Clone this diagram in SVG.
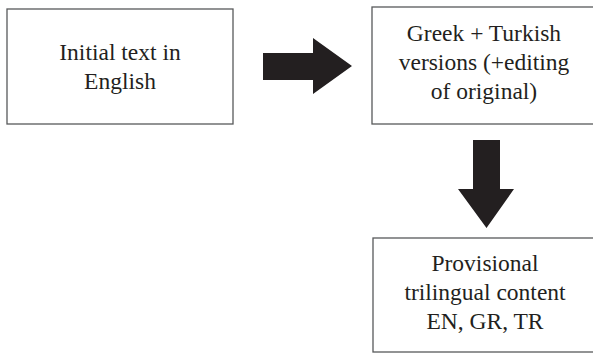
<svg xmlns="http://www.w3.org/2000/svg" width="593" height="354" viewBox="0 0 593 354">
<style>
.box{fill:#fff;stroke:#58595b;stroke-width:1.3}
.lbl{font-family:'Liberation Serif','DejaVu Serif',serif;font-size:23.5px;fill:#231f20;text-anchor:middle}
.arr{fill:#231f20}
</style>
<rect x="0" y="0" width="593" height="354" fill="#fff"/>
<g id="node-initial">
<rect class="box" x="7" y="9" width="226" height="115"/>
<text class="lbl" font-family="Liberation Serif, serif" x="120" y="60">Initial text in</text>
<text class="lbl" font-family="Liberation Serif, serif" x="120" y="89">English</text>
</g>
<g id="node-versions">
<rect class="box" x="372" y="7" width="240" height="117"/>
<text class="lbl" font-family="Liberation Serif, serif" x="484" y="41">Greek + Turkish</text>
<text class="lbl" font-family="Liberation Serif, serif" x="484" y="70">versions (+editing</text>
<text class="lbl" font-family="Liberation Serif, serif" x="484" y="99">of original)</text>
</g>
<g id="node-provisional">
<rect class="box" x="373" y="238" width="240" height="114"/>
<text class="lbl" font-family="Liberation Serif, serif" x="485" y="271">Provisional</text>
<text class="lbl" font-family="Liberation Serif, serif" x="485" y="300">trilingual content</text>
<text class="lbl" font-family="Liberation Serif, serif" x="485" y="329">EN, GR, TR</text>
</g>
<g id="connectors">
<polygon class="arr" points="263,53 313,53 313,38 352,66 313,94 313,80 263,80"/>
<polygon class="arr" points="473,140 500,140 500,189 514,189 486.5,228 458,189 473,189"/>
</g>
</svg>
